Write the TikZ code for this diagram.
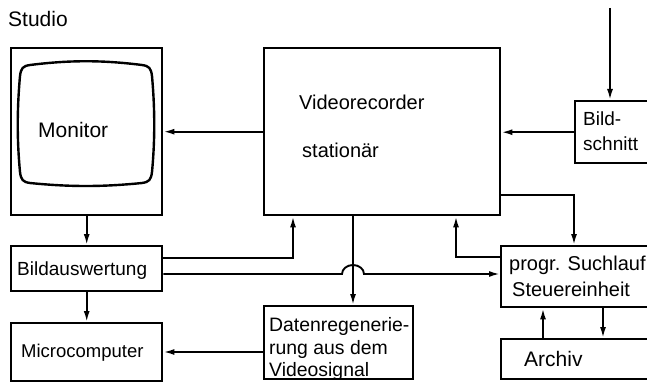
\documentclass[tikz,border=0pt]{standalone}
\usepackage{fontspec}
\setmainfont{Liberation Sans}
\usetikzlibrary{arrows.meta}
\begin{document}
\begin{tikzpicture}[x=1pt,y=-1pt,
  box/.style={draw, line width=2.4pt, inner sep=0pt, anchor=north west},
  txt/.style={inner sep=0pt, font=\fontsize{20}{22}\selectfont, anchor=base west},
  arr/.style={line width=1.9pt, -{Latex[length=11pt,width=6pt]}}]
\path[use as bounding box, clip] (0,0) rectangle (647,382);
% boxes
\node[box, minimum width=151pt, minimum height=167pt] (mon) at (10,47) {};
\node[box, minimum width=236pt, minimum height=167pt] (vr) at (263,47) {};
\node[box, minimum width=90pt, minimum height=62pt] (bs) at (574,100) {};
\node[box, minimum width=151pt, minimum height=45pt] (ba) at (10,245) {};
\node[box, minimum width=151pt, minimum height=58pt] (mc) at (10,322) {};
\node[box, minimum width=149pt, minimum height=73pt] (dr) at (263,305) {};
\node[box, minimum width=160pt, minimum height=61pt] (ps) at (500,245) {};
\node[box, minimum width=160pt, minimum height=40pt] (ar) at (500,338) {};
% monitor screen
\draw[line width=2.4pt] (30,65) .. controls (70,60) and (102,60) .. (142,65)
  .. controls (149,66) and (151,68) .. (152,76)
  .. controls (155,110) and (155,140) .. (152,172)
  .. controls (151,180) and (149,182) .. (142,183)
  .. controls (102,187) and (70,187) .. (30,183)
  .. controls (23,182) and (21,180) .. (20,172)
  .. controls (17,140) and (17,110) .. (20,76)
  .. controls (21,68) and (23,66) .. (30,65) -- cycle;
% texts
\node[txt, font=\fontsize{21}{23}\selectfont] (studio) at (8,27) {Studio};
\node[txt, font=\fontsize{21}{23}\selectfont] (montxt) at (38,138) {Monitor};
\node[txt] (vrt1) at (299,110) {Videorecorder};
\node[txt] (vrt2) at (302,158) {stationär};
\node[txt, font=\fontsize{19}{21}\selectfont] (bst1) at (583,126) {Bild-};
\node[txt, font=\fontsize{19}{21}\selectfont] (bst2) at (583,151) {schnitt};
\node[txt, font=\fontsize{19}{21}\selectfont] (bat) at (17,275) {Bildauswertung};
\node[txt, font=\fontsize{18.5}{21}\selectfont] (mct) at (21,357) {Microcomputer};
\node[txt, font=\fontsize{19.4}{21}\selectfont] (drt1) at (269,331) {Datenregenerie-};
\node[txt, font=\fontsize{19.4}{21}\selectfont] (drt2) at (269,354) {rung aus dem};
\node[txt, font=\fontsize{19.4}{21}\selectfont] (drt3) at (269,376) {Videosignal};
\node[txt] (pst1) at (509,270) {progr. Suchlauf};
\node[txt] (pst2) at (512,296) {Steuereinheit};
\node[txt, font=\fontsize{21}{23}\selectfont] (art) at (524,366) {Archiv};
% connectors
\coordinate (topin) at (610,8);
\draw[arr] (topin) -- (topin |- bs.north);
\draw[arr] (bs.west) -- (vr.east |- bs.west);
\draw[arr] (vr.west) -- (mon.east);
\draw[arr] (mon.south) -- (ba.north);
\draw[arr] (ba.south) -- (mc.north);
\draw[arr] (ba.east |- 0,258) -| (vr.south -| 293,0);
\draw[arr] (ba.east |- 0,274) -- (342,274) arc[start angle=180, end angle=360, x radius=11, y radius=9] -- (ps.west |- 0,274);
\draw[arr] (vr.south -| 353,0) -- (dr.north -| 353,0);
\draw[arr] (dr.west |- 0,352) -- (mc.east |- 0,352);
\draw[arr] (ps.west |- 0,257) -| (vr.south -| 456,0);
\draw[arr] (vr.east |- 0,195) -| (ps.north -| 574,0);
\draw[arr] (ar.north -| 543,0) -- (ps.south -| 543,0);
\draw[arr] (ps.south -| 603,0) -- (ar.north -| 603,0);
\end{tikzpicture}
\end{document}
